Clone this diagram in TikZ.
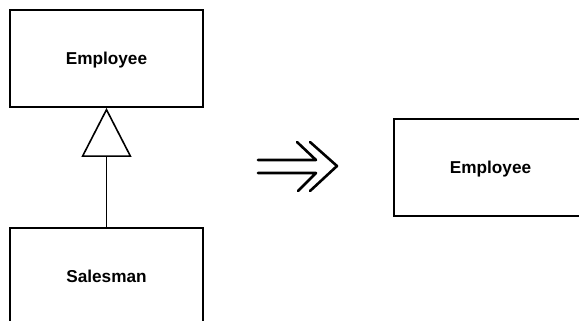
\documentclass[tikz,border=0pt]{standalone}
\usepackage{fontspec}
\setmainfont{Liberation Sans}
\usetikzlibrary{arrows.meta,positioning}
\tikzset{
  cls/.style={draw,line width=1.8pt,minimum width=193pt,minimum height=97pt,
              inner sep=0pt,text height=12.4pt,text depth=0pt,
              font=\bfseries\fontsize{17.2}{20}\selectfont},
  inherit/.style={line width=1.6pt,
              -{Triangle[open,length=49pt,width=50pt,line width=1.6pt,fill=white]}},
  implies/.style={line width=2.6pt,line cap=round,line join=round},
}

\begin{document}
\begin{tikzpicture}[x=1pt,y=-1pt]
  \useasboundingbox (0,0) rectangle (579,321);
  \clip (0,0) rectangle (579,321);
  \node[cls] (emp) at (106.5,58.5){Employee};
  \node[cls] (sal) at (106.5,276.5){Salesman};
  \node[cls] (res) at (490.5,167.5){Employee};
  \draw[inherit] (sal) -- (emp);
  % the refactoring sign
  \coordinate (tip) at (337,166);
  \draw[implies] (258,160) -- (316,160) -- (297,142);
  \draw[implies] (258,173) -- (316,173) -- (298,191);
  \draw[implies] (310,142) -- (tip) -- (310,191);
\end{tikzpicture}
\end{document}
